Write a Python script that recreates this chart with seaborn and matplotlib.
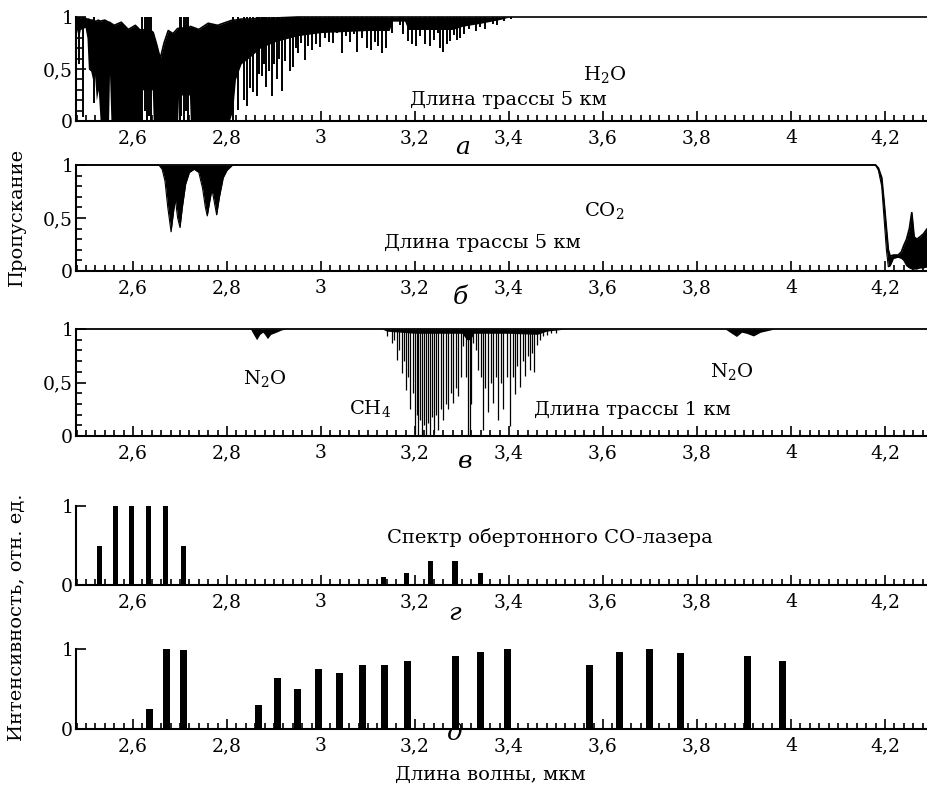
import matplotlib
matplotlib.use("Agg")
import matplotlib.pyplot as plt
import seaborn as sns
from matplotlib.ticker import MultipleLocator, FuncFormatter, FixedLocator

# ========== DATA ==========

# panel a: H2O, solid absorption mass (lower / upper edge of the black area)
h2o_x = [2.470, 2.473, 2.476, 2.480, 2.484, 2.488, 2.498, 2.502, 2.505, 2.510,
         2.514, 2.518, 2.522, 2.526, 2.530, 2.540, 2.548, 2.550, 2.553, 2.560,
         2.575, 2.590, 2.605, 2.616, 2.618, 2.641, 2.643, 2.650, 2.658, 2.666,
         2.675, 2.685, 2.695, 2.697, 2.720, 2.722, 2.740, 2.760, 2.780, 2.805,
         2.812, 2.818, 2.830, 2.850, 2.870, 2.900, 2.950, 3.000, 3.050, 3.100,
         3.145, 3.152, 3.178, 3.185, 3.280, 3.300, 3.340, 3.385, 3.400, 4.295]
h2o_lo = [0.50, 0.40, 0.75, 0.88, 0.80, 0.88, 0.90, 0.80, 0.50, 0.48,
          0.40, 0.45, 0.20, 0.30, 0.00, 0.00, 0.00, 0.45, 0.00, 0.00,
          0.00, 0.00, 0.00, 0.00, 0.30, 0.30, 0.00, 0.00, 0.00, 0.00,
          0.00, 0.00, 0.00, 0.25, 0.25, 0.00, 0.00, 0.00, 0.00, 0.00,
          0.10, 0.40, 0.55, 0.62, 0.70, 0.76, 0.82, 0.85, 0.86, 0.87,
          0.87, 0.96, 0.96, 0.88, 0.88, 0.91, 0.94, 0.98, 1.00, 1.00]
h2o_hi = [0.97, 0.98, 0.99, 0.99, 0.99, 0.99, 0.99, 0.98, 0.98, 0.97,
          0.97, 0.96, 0.96, 0.97, 0.96, 0.97, 0.95, 0.95, 0.94, 0.92,
          0.95, 0.88, 0.92, 0.87, 0.88, 0.86, 0.85, 0.74, 0.60, 0.75,
          0.87, 0.84, 0.89, 0.89, 0.90, 0.91, 0.88, 0.94, 0.92, 0.96,
          0.97, 0.97, 0.98, 0.98, 0.99, 0.99, 1.00, 1.00, 1.00, 1.00,
          1.00, 1.00, 1.00, 1.00, 1.00, 1.00, 1.00, 1.00, 1.00, 1.00]

# panel a: single H2O lines (centre, transmission at line centre)
h2o_line_pos = [2.486, 2.494, 2.517, 2.620, 2.625, 2.629, 2.633, 2.638, 2.699,
                2.703, 2.708, 2.713, 2.717,
                2.813, 2.824, 2.836, 2.843, 2.849, 2.856, 2.863, 2.869, 2.874,
                2.879, 2.884, 2.890, 2.895, 2.900, 2.906, 2.911, 2.916, 2.924,
                2.934, 2.940, 2.946, 2.952, 2.958, 2.966, 2.973, 2.980, 2.990,
                2.998, 3.008, 3.016, 3.026, 3.035, 3.044, 3.053, 3.062, 3.070,
                3.076, 3.088, 3.097, 3.106, 3.115, 3.122, 3.129, 3.138, 3.150,
                3.168, 3.175, 3.186, 3.193, 3.203, 3.211, 3.222, 3.232, 3.240,
                3.248, 3.253, 3.260, 3.268, 3.274, 3.282, 3.289, 3.296, 3.305,
                3.315, 3.330, 3.338, 3.350, 3.365, 3.375, 3.390, 3.405]
h2o_line_T = [0.55, 0.04, 0.17, 0.00, 0.10, 0.00, 0.05, 0.00, 0.00,
              0.05, 0.00, 0.10, 0.00,
              0.00, 0.11, 0.20, 0.14, 0.32, 0.28, 0.24, 0.45, 0.43,
              0.55, 0.33, 0.48, 0.24, 0.55, 0.40, 0.60, 0.29, 0.58,
              0.48, 0.52, 0.70, 0.65, 0.75, 0.59, 0.72, 0.68, 0.74,
              0.71, 0.80, 0.76, 0.75, 0.85, 0.65, 0.82, 0.76, 0.84,
              0.66, 0.80, 0.70, 0.68, 0.76, 0.72, 0.65, 0.70, 0.85,
              0.92, 0.84, 0.77, 0.74, 0.72, 0.82, 0.74, 0.72, 0.78,
              0.85, 0.70, 0.66, 0.74, 0.77, 0.83, 0.78, 0.80, 0.84,
              0.88, 0.87, 0.90, 0.88, 0.93, 0.92, 0.96, 0.98]

# panel b: CO2, edges of the black area
co2_x = [2.470, 2.655, 2.662, 2.668, 2.674, 2.681, 2.686, 2.690, 2.695, 2.700,
         2.705, 2.712, 2.720, 2.730, 2.740, 2.748, 2.754, 2.758, 2.763, 2.768,
         2.773, 2.778, 2.784, 2.792, 2.800, 2.812, 4.180, 4.186, 4.193, 4.198,
         4.203, 4.207, 4.211, 4.218, 4.228, 4.235, 4.240, 4.246, 4.252, 4.257,
         4.262, 4.268, 4.274, 4.282, 4.290]
co2_lo = [1.00, 1.00, 0.96, 0.85, 0.60, 0.37, 0.55, 0.68, 0.50, 0.41,
          0.60, 0.82, 0.93, 0.96, 0.93, 0.78, 0.60, 0.52, 0.65, 0.77,
          0.65, 0.53, 0.70, 0.88, 0.95, 1.00, 1.00, 0.95, 0.80, 0.50,
          0.20, 0.04, 0.05, 0.12, 0.13, 0.12, 0.10, 0.05, 0.03, 0.02,
          0.02, 0.02, 0.03, 0.03, 0.04]
co2_hi = [1.00, 1.00, 1.00, 1.00, 1.00, 1.00, 1.00, 1.00, 1.00, 1.00,
          1.00, 1.00, 1.00, 1.00, 1.00, 1.00, 1.00, 1.00, 1.00, 1.00,
          1.00, 1.00, 1.00, 1.00, 1.00, 1.00, 1.00, 0.97, 0.88, 0.65,
          0.40, 0.20, 0.14, 0.15, 0.15, 0.18, 0.24, 0.30, 0.40, 0.55,
          0.32, 0.30, 0.32, 0.35, 0.40]

# panel c: N2O bands and CH4 background
n2o_x = [2.470, 2.850, 2.855, 2.863, 2.870, 2.876, 2.880, 2.886, 2.893, 2.905,
         2.915, 2.925, 3.130, 3.140, 3.200, 3.300, 3.310, 3.318, 3.325, 3.400,
         3.460, 3.480, 3.500, 3.520, 3.860, 3.870, 3.884, 3.895, 3.905, 3.920,
         3.935, 3.955, 3.965, 4.295]
n2o_T = [1.00, 1.00, 0.96, 0.90, 0.95, 0.97, 0.95, 0.91, 0.95, 0.97,
         0.99, 1.00, 1.00, 0.98, 0.96, 0.96, 0.90, 0.90, 0.96, 0.96,
         0.95, 0.98, 0.99, 1.00, 1.00, 0.97, 0.93, 0.97, 0.96, 0.935,
         0.97, 0.99, 1.00, 1.00]

# panel c: CH4 lines
ch4_pos = [3.140, 3.150, 3.156, 3.161, 3.167, 3.172, 3.177, 3.181, 3.185, 3.189,
           3.195, 3.200, 3.204, 3.207, 3.211, 3.214, 3.219, 3.223, 3.228, 3.232,
           3.236, 3.240, 3.245, 3.250, 3.255, 3.260, 3.266, 3.271, 3.276, 3.281,
           3.287, 3.292, 3.298, 3.303, 3.309, 3.313, 3.316, 3.319, 3.324, 3.330,
           3.335, 3.340, 3.345, 3.350, 3.356, 3.361, 3.367, 3.372, 3.377, 3.383,
           3.388, 3.395, 3.402, 3.408, 3.413, 3.418, 3.423, 3.429, 3.434, 3.440,
           3.445, 3.449, 3.453, 3.460, 3.466, 3.473, 3.480, 3.490, 3.501]
ch4_T = [0.93, 0.87, 0.90, 0.71, 0.80, 0.59, 0.70, 0.43, 0.55, 0.25,
         0.40, 0.02, 0.20, 0.00, 0.15, 0.00, 0.10, 0.00, 0.12, 0.00,
         0.18, 0.03, 0.20, 0.06, 0.25, 0.15, 0.30, 0.25, 0.40, 0.31,
         0.45, 0.37, 0.55, 0.84, 0.55, 0.00, 0.00, 0.30, 0.87, 0.80,
         0.62, 0.55, 0.06, 0.45, 0.22, 0.50, 0.31, 0.55, 0.15, 0.50,
         0.25, 0.55, 0.09, 0.55, 0.39, 0.65, 0.46, 0.70, 0.56, 0.75,
         0.62, 0.78, 0.60, 0.85, 0.90, 0.93, 0.94, 0.96, 0.96]

# panel g: overtone CO laser spectrum
laser_pos = [2.528, 2.562, 2.597, 2.633, 2.670, 2.707, 3.133, 3.182, 3.233, 3.285, 3.340]
laser_int = [0.50, 1.00, 1.00, 1.00, 1.00, 0.50, 0.10, 0.15, 0.30, 0.30, 0.15]

# panel d: selected laser lines
sel_pos = [2.635, 2.672, 2.708, 2.867, 2.908, 2.950, 2.994, 3.040, 3.088, 3.135,
           3.184, 3.287, 3.340, 3.397, 3.572, 3.636, 3.699, 3.765, 3.908, 3.982]
sel_int = [0.25, 1.00, 0.99, 0.30, 0.64, 0.50, 0.75, 0.70, 0.80, 0.80,
           0.85, 0.91, 0.96, 1.00, 0.80, 0.96, 1.00, 0.95, 0.91, 0.85]

X_MIN, X_MAX = 2.4787, 4.2894
FS = 14
TICK_FS = 13.5

# ========== STYLE ==========
sns.set_style("ticks")
plt.rcParams["font.family"] = ["DejaVu Serif"]
plt.rcParams["mathtext.fontset"] = "dejavuserif"
plt.rcParams["text.color"] = "black"
plt.rcParams["axes.labelcolor"] = "black"
plt.rcParams["xtick.color"] = "black"
plt.rcParams["ytick.color"] = "black"
plt.rcParams["axes.edgecolor"] = "black"

comma = FuncFormatter(lambda v, _: f"{v:g}".replace(".", ","))

fig = plt.figure(figsize=(9.27, 7.85), dpi=100)
W, H = 927.0, 785.0


def make_axes(y_top, y_bot, spectral=True):
    top = 1.02
    ax = fig.add_axes([76 / W, 1 - y_bot / H, (W - 76) / W, (y_bot - y_top) * top / H])
    ax.set_xlim(X_MIN, X_MAX)
    ax.set_ylim(0, top)
    for s in ("top", "right"):
        ax.spines[s].set_visible(False)
    ax.spines["left"].set_bounds(0, 1)
    ax.spines["left"].set_linewidth(1.5)
    ax.spines["bottom"].set_linewidth(1.5)
    ax.xaxis.set_major_locator(MultipleLocator(0.2))
    ax.xaxis.set_minor_locator(MultipleLocator(0.02))
    ax.xaxis.set_major_formatter(comma)
    if spectral:
        ax.yaxis.set_major_locator(FixedLocator([0, 0.5, 1]))
        ax.yaxis.set_minor_locator(FixedLocator([0.1, 0.2, 0.3, 0.4, 0.6, 0.7, 0.8, 0.9]))
    else:
        ax.yaxis.set_major_locator(FixedLocator([0, 1]))
        ax.yaxis.set_minor_locator(FixedLocator([]))
    ax.yaxis.set_major_formatter(comma)
    ax.tick_params(which="both", direction="in", top=False, right=False,
                   width=1.2, colors="black", labelsize=TICK_FS)
    ax.tick_params(which="major", length=7)
    ax.tick_params(which="minor", length=4)
    ax.tick_params(axis="x", pad=6)
    ax.tick_params(axis="y", pad=2)
    ax.set_xlabel("")
    ax.set_ylabel("")
    ax.patch.set_visible(False)
    return ax


# ---------- a: H2O ----------
ax = make_axes(17, 121)
ax.fill_between(h2o_x, h2o_lo, h2o_hi, color="black", lw=0)
ax.plot(h2o_x, h2o_hi, color="black", lw=1.2)
ax.vlines(h2o_line_pos, h2o_line_T, 1, color="black", lw=1.4)
ax.text(3.604, 0.45, r"H$_2$O", fontsize=FS, ha="center", va="center")
ax.text(3.398, 0.20, "Длина трассы 5 км", fontsize=FS, ha="center", va="center")

# ---------- b: CO2 ----------
ax = make_axes(165, 271)
ax.fill_between(co2_x, co2_lo, co2_hi, color="black", lw=0)
sns.lineplot(x=co2_x, y=co2_hi, color="black", lw=1.3, ax=ax, sort=False)
sns.lineplot(x=co2_x, y=co2_lo, color="black", lw=0.8, ax=ax, sort=False)
ax.text(3.602, 0.575, r"CO$_2$", fontsize=FS, ha="center", va="center")
ax.text(3.343, 0.264, "Длина трассы 5 км", fontsize=FS, ha="center", va="center")

# ---------- c: N2O + CH4 ----------
ax = make_axes(329, 436)
ax.fill_between(n2o_x, n2o_T, 1, color="black", lw=0)
sns.lineplot(x=n2o_x, y=[1] * len(n2o_x), color="black", lw=1.3, ax=ax, sort=False)
ax.vlines(ch4_pos, ch4_T, 1, color="black", lw=0.9)
ax.text(2.881, 0.54, r"N$_2$O", fontsize=FS, ha="center", va="center")
ax.text(3.874, 0.60, r"N$_2$O", fontsize=FS, ha="center", va="center")
ax.text(3.104, 0.26, r"CH$_4$", fontsize=FS, ha="center", va="center")
ax.text(3.662, 0.24, "Длина трассы 1 км", fontsize=FS, ha="center", va="center")

# ---------- g: laser spectrum ----------
ax = make_axes(506, 585, spectral=False)
sns.barplot(x=laser_pos, y=laser_int, native_scale=True, width=0.32,
            color="black", saturation=1, errorbar=None, linewidth=0, ax=ax)
ax.set_xlim(X_MIN, X_MAX)
ax.set_xlabel("")
ax.set_ylabel("")
ax.text(3.487, 0.60, "Спектр обертонного CO-лазера", fontsize=FS, ha="center", va="center")

# ---------- d: selected lines ----------
ax = make_axes(649, 729, spectral=False)
sns.barplot(x=sel_pos, y=sel_int, native_scale=True, width=0.42,
            color="black", saturation=1, errorbar=None, linewidth=0, ax=ax)
ax.set_xlim(X_MIN, X_MAX)
ax.set_xlabel("")
ax.set_ylabel("")

# panel letters and axis titles
for letter, px, py in [("а", 463, 148), ("б", 460, 297), ("в", 465, 462),
                       ("г", 455, 613), ("д", 455, 733)]:
    fig.text(px / W, 1 - py / H, letter, fontsize=18, style="italic",
             ha="center", va="center")

fig.text(17 / W, 1 - 217 / H, "Пропускание", rotation=90, fontsize=FS,
         ha="center", va="center")
fig.text(17 / W, 1 - 617 / H, "Интенсивность, отн. ед.", rotation=90, fontsize=FS,
         ha="center", va="center")
fig.text(490 / W, 1 - 775 / H, "Длина волны, мкм", fontsize=FS,
         ha="center", va="center")

fig.savefig("out.png", dpi=100)
